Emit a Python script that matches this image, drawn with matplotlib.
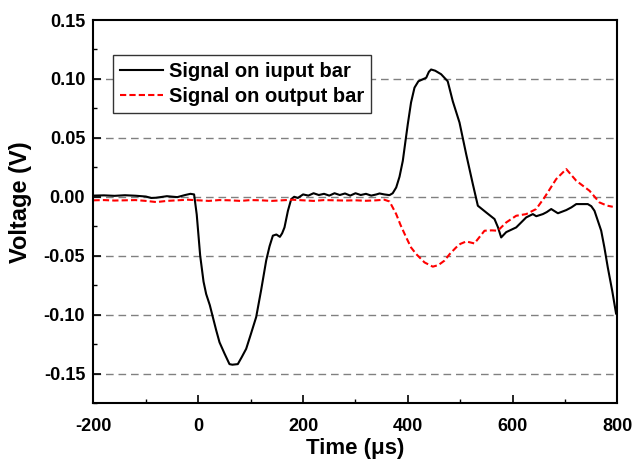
import numpy as np
import matplotlib
matplotlib.use('Agg')
import matplotlib.pyplot as plt
from matplotlib.ticker import MultipleLocator

plt.rcParams['font.family'] = ['Liberation Sans', 'DejaVu Sans']
plt.rcParams['font.weight'] = 'bold'
plt.rcParams['axes.unicode_minus'] = False

# input bar signal
t_in = [-200, -180, -160, -140, -120, -100, -90, -80, -60, -40, -25, -15, -8, -3,
        3.6, 10, 15, 22, 27.7, 34, 40.5, 50, 59.5, 65, 75.4, 83, 91.4, 100, 110.5,
        120, 129.6, 136, 142.3, 149, 155.7, 160, 164.5, 171, 177.3, 183, 190, 200,
        210, 220, 230, 240, 250, 260, 270, 280, 290, 300, 310, 320, 330, 340, 345.8,
        355, 364.9, 371, 377.7, 384, 390.3, 395, 399.8, 406, 412.6, 420, 428.5, 435,
        440, 444.3, 452, 463.4, 476, 485.7, 498.5, 511.3, 523.9, 533.5, 549.4, 565.3,
        572, 578, 587.6, 606.7, 625.8, 638.5, 645, 657.6, 665, 673.5, 686.3, 702.2,
        712, 721.3, 743.3, 750, 756.1, 768.9, 775, 781.5, 790, 797.4, 800]
v_in = [0.001, 0.0012, 0.0008, 0.0013, 0.0009, 0.0002, -0.001, -0.0008, 0.0005, -0.0003,
        0.0015, 0.0025, 0.002, -0.015,
        -0.05, -0.072, -0.0825, -0.092, -0.102, -0.113, -0.1235, -0.133, -0.142, -0.1425,
        -0.142, -0.136, -0.129, -0.117, -0.102,
        -0.079, -0.054, -0.042, -0.033, -0.032, -0.034, -0.031, -0.026, -0.012, -0.002,
        0.0, -0.001, 0.002,
        0.001, 0.003, 0.0015, 0.0025, 0.001, 0.003, 0.0015, 0.0028, 0.001, 0.003, 0.0015,
        0.0025, 0.001, 0.002, 0.0028,
        0.002, 0.0014, 0.003, 0.0079, 0.017, 0.0305, 0.046, 0.0616, 0.08, 0.0926, 0.098,
        0.0997, 0.101,
        0.106, 0.108, 0.107, 0.104, 0.098, 0.081, 0.063, 0.036, 0.0108, -0.0076, -0.0133,
        -0.0189,
        -0.026, -0.0345, -0.030, -0.026, -0.0175, -0.0147, -0.0165, -0.0147, -0.013,
        -0.0104, -0.014, -0.0113,
        -0.009, -0.0062, -0.0062, -0.008, -0.0119, -0.0288, -0.043, -0.06, -0.08, -0.0994,
        -0.1]

# output bar signal
t_out = [-200, -180, -160, -140, -120, -100, -80, -60, -40, -20, 0, 20, 40, 60, 80, 100,
         120, 140, 160, 180, 200, 220, 240, 260, 280, 300, 320, 340, 355, 365, 377.7, 386,
         396.8, 406, 415.8, 431.7, 447.5, 458, 469.8, 480, 492, 500, 511.3, 527, 546.2,
         560, 571.6, 587.6, 606.7, 625.8, 644.8, 660.7, 683, 702.2, 721.3, 746.6, 765.6,
         780, 791]
v_out = [-0.003, -0.0028, -0.0032, -0.003, -0.0028, -0.0035, -0.0045, -0.0035, -0.003,
         -0.0025, -0.003, -0.0035, -0.0028, -0.003, -0.0035, -0.0028,
         -0.003, -0.0035, -0.003, -0.0025, -0.003, -0.0035, -0.0028, -0.003, -0.0032,
         -0.003, -0.0034, -0.003, -0.0025, -0.004, -0.0147, -0.024,
         -0.0345, -0.043, -0.0486, -0.0557, -0.0593, -0.058, -0.0542, -0.0485, -0.043,
         -0.040, -0.0379, -0.0396, -0.0288,
         -0.0285, -0.0288, -0.0218, -0.0161, -0.0147, -0.0104, -0.0006, 0.015, 0.0235,
         0.0136, 0.0051, -0.0048,
         -0.0075, -0.0085]

y_ticks = [-0.15, -0.1, -0.05, 0.0, 0.05, 0.1, 0.15]
y_ticklabels = ['-0.15', '-0.10', '-0.05', '0.00', '0.05', '0.10', '0.15']
grid_levels = [0.1, 0.05, 0.0, -0.05, -0.1, -0.15]

fig = plt.figure(figsize=(6.33, 4.61), dpi=100)
ax = fig.add_axes([0.1477, 0.1258, 0.8278, 0.8308])

ax.plot(t_in, v_in, color='black', lw=1.5, label='Signal on iuput bar')
ax.plot(t_out, v_out, color='red', lw=1.5, ls=(0, (3, 1.5)), label='Signal on output bar')

for g in grid_levels:
    ax.axhline(g, color='#808080', lw=1.0, ls=(0, (5.5, 3.5)), zorder=0)

ax.set_xlim(-200, 800)
ax.set_ylim(-0.175, 0.15)
ax.xaxis.set_major_locator(MultipleLocator(200))
ax.xaxis.set_minor_locator(MultipleLocator(100))
ax.yaxis.set_minor_locator(MultipleLocator(0.025))
ax.set_yticks(y_ticks)
ax.set_yticklabels(y_ticklabels)
ax.tick_params(direction='in', which='major', length=6, width=1.2, labelsize=13)
ax.tick_params(direction='in', which='minor', length=3, width=1.0)
ax.tick_params(axis='x', which='major', pad=11)
ax.tick_params(axis='y', which='major', pad=6)
for lab in ax.get_xticklabels() + ax.get_yticklabels():
    lab.set_fontweight('bold')
for s in ax.spines.values():
    s.set_linewidth(1.5)

ax.set_xlabel('Time (\u03bcs)', fontsize=16, fontweight='bold', labelpad=2)
ax.set_ylabel('Voltage (V)', fontsize=17, fontweight='bold')
ax.yaxis.set_label_coords(-0.118, 0.525)

leg = ax.legend(loc='upper left', bbox_to_anchor=(0.0366, 0.9086), borderaxespad=0,
                fontsize=14.5, frameon=True, fancybox=False, edgecolor='#333333',
                handlelength=2.15, handletextpad=0.3, borderpad=0.35,
                labelspacing=0.3, framealpha=1)
leg.get_frame().set_linewidth(1.0)

fig.savefig('out.png', dpi=100)
